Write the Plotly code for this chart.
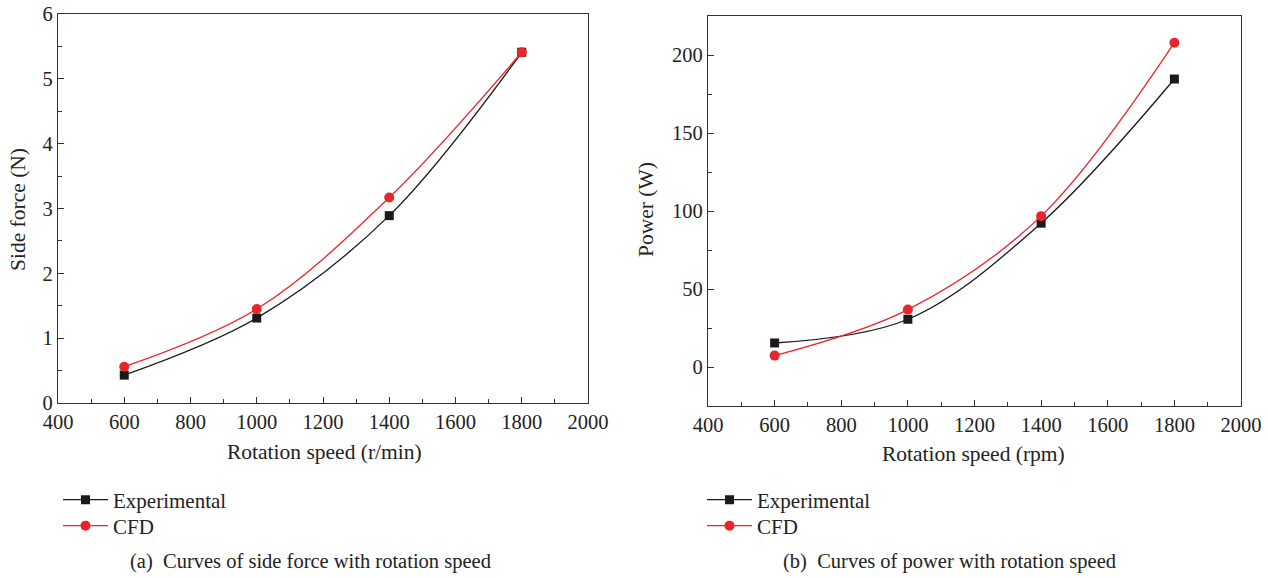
import plotly.graph_objects as go

speed = [600, 1000, 1400, 1800]
side_exp = [0.43, 1.31, 2.89, 5.41]
side_cfd = [0.56, 1.45, 3.17, 5.41]
power_exp = [15.4, 30.6, 92.2, 184.6]
power_cfd = [7.3, 36.8, 96.7, 207.9]

W, H = 1268, 578
FONT = "Liberation Serif"
BLACK = "#1a1a1a"
RED = "#e8262a"

def px(x):
    return x / W

def py(y):
    return 1 - y / H

fig = go.Figure()

def add_pair(xa, ya, exp, cfd, leg_exp, leg_cfd):
    fig.add_trace(go.Scatter(x=speed, y=exp, name="Experimental", mode="lines+markers",
                             line=dict(color=BLACK, width=1.3, shape="spline", smoothing=1),
                             marker=dict(symbol="square", size=9, color=BLACK),
                             xaxis=xa, yaxis=ya, legend=leg_exp))
    fig.add_trace(go.Scatter(x=speed, y=cfd, name="CFD", mode="lines+markers",
                             line=dict(color=RED, width=1.3, shape="spline", smoothing=1),
                             marker=dict(symbol="circle", size=10, color=RED),
                             xaxis=xa, yaxis=ya, legend=leg_cfd))

add_pair("x", "y", side_exp, side_cfd, "legend", "legend2")
add_pair("x2", "y2", power_exp, power_cfd, "legend3", "legend4")

axis_common = dict(showline=True, linecolor="#333", linewidth=1.3, mirror=True,
                   ticks="inside", ticklen=6, tickcolor="#333", tickwidth=1.2,
                   showgrid=False, zeroline=False, automargin=False,
                   tickfont=dict(family=FONT, size=20.5, color="#222"))

def leg(x, y):
    return dict(x=px(x), y=py(y), xanchor="left", yanchor="middle",
                font=dict(family=FONT, size=21, color="#222"), bgcolor="rgba(0,0,0,0)",
                tracegroupgap=0, itemwidth=45)

fig.update_layout(
    width=W, height=H, margin=dict(l=0, r=0, t=0, b=0, autoexpand=False),
    paper_bgcolor="white", plot_bgcolor="white",
    font=dict(family=FONT, color="#222"),
    xaxis=dict(domain=[px(58), px(588)], range=[400, 2000], dtick=200, anchor="y",
               minor=dict(ticks="inside", dtick=100, ticklen=4, tickcolor="#333"), **axis_common),
    yaxis=dict(domain=[py(403), py(14)], range=[0, 6], dtick=1, anchor="x",
               minor=dict(ticks="inside", dtick=0.5, ticklen=4, tickcolor="#333"), **axis_common),
    xaxis2=dict(domain=[px(708), px(1241)], range=[400, 2000], dtick=200, anchor="y2",
                minor=dict(ticks="inside", dtick=100, ticklen=4, tickcolor="#333"), **axis_common),
    yaxis2=dict(domain=[py(406), py(16)], range=[-25, 225], dtick=50, anchor="x2",
                minor=dict(ticks="inside", dtick=25, ticklen=4, tickcolor="#333"), **axis_common),
    legend=leg(58, 500),
    legend2=leg(58, 526),
    legend3=leg(702, 500),
    legend4=leg(702, 526),
    showlegend=True,
)

annots = [
    dict(text="Rotation speed (r/min)", x=px(324), y=py(452), size=21.5, angle=0),
    dict(text="Rotation speed (rpm)", x=px(973), y=py(454), size=21.5, angle=0),
    dict(text="Side force (N)", x=px(18), y=py(210), size=21.5, angle=-90),
    dict(text="Power (W)", x=px(646), y=py(210), size=21.5, angle=-90),
    dict(text="(a)  Curves of side force with rotation speed", x=px(310), y=py(561), size=20.5, angle=0),
    dict(text="(b)  Curves of power with rotation speed", x=px(949), y=py(561), size=20.5, angle=0),
]
for a in annots:
    fig.add_annotation(text=a["text"], x=a["x"], y=a["y"], xref="paper", yref="paper",
                       xanchor="center", yanchor="middle", showarrow=False, textangle=a["angle"],
                       font=dict(family=FONT, size=a["size"], color="#222"))

fig.write_html("out.html")
